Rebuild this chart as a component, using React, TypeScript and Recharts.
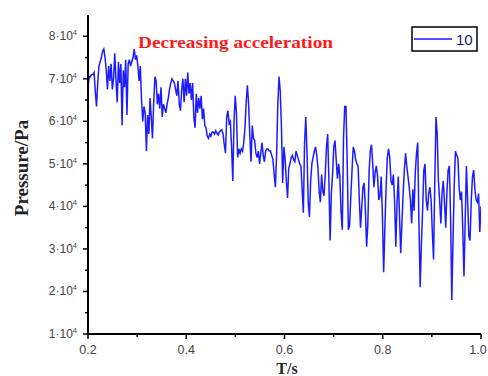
import { Customized, Line, LineChart, XAxis, YAxis } from 'recharts'

// pressure trace, Pa, sampled evenly from 0.2 s to 1.0 s
const pressure: number[] = [
  68000, 70500, 70500, 71000, 71000, 71500, 67000, 63500, 69000, 73000, 74000, 75000, 76500, 77000, 75000, 72000,
  67500, 73000, 69500, 73500, 67500, 70000, 76000, 69500, 64500, 74000, 69000, 73500, 59000, 72000, 68000, 74500,
  61500, 73500, 74500, 73000, 74000, 75000, 77000, 74500, 75500, 73000, 69500, 73000, 65000, 60000, 63500, 62000,
  53000, 61500, 57000,
  65500, 61000, 56000, 64500, 70500, 69500, 64000, 66500, 63000, 68000, 61000, 64000, 63000, 62000, 64000, 65500,
  67500, 69000, 70000, 69500, 69000, 67500, 66000, 69500, 64000, 62500, 67500, 70000, 64500, 70000, 66000, 71500,
  66500, 69000, 65000, 69000, 61000, 58500, 66500, 62000, 65500, 63000, 66000, 60500, 63000, 59000, 58500, 56500,
  56000, 57000, 56500, 57500,
  57500, 57000, 57800, 57200, 56800, 57500, 57800, 58000, 57000, 54500, 52500, 61000, 62500, 59500, 60000, 54000,
  46000, 60000, 66000, 62000, 51500, 53500, 52500, 53500, 53000, 55000, 58500, 64500, 68500, 64000, 56500, 50500,
  59000, 56000, 55500, 52500, 51500, 53000, 50000, 52500, 55000, 52000, 50500, 53000, 53500, 53500, 53000, 53000,
  52000, 51000, 47500, 44500, 52000, 64000, 70500,
  67000, 58500, 45500, 54000, 51000, 46000, 42000, 49000, 50000, 51500, 52000, 51000, 50500, 53000, 52000, 51000,
  50000, 49500, 44000, 38500, 55000, 61000, 52500, 41000, 37500, 46000, 50000, 51500, 53000, 54000, 52000, 49000,
  43500, 41000, 47500, 43500, 42500, 47500, 54000, 57000, 46000, 32000, 43000, 47500, 54000, 55500, 51000, 46500,
  50000, 47000, 38500, 34500, 56000, 63500,
  63500, 51000, 34500, 35500, 42200, 48500, 54000, 53000, 51000, 50000, 49500, 41500, 35000, 40000, 44500, 45500,
  39000, 30500, 36000, 48000, 53000, 54500, 50000, 44500, 48000, 49500, 47000, 41500, 42500, 47000, 37500, 24500,
  35000, 44500, 51500, 53500, 51500, 46000, 45000, 47500, 41000, 30500, 41000, 47000, 38000, 29000, 36000, 43000,
  48500, 52500, 49500, 47000, 44500, 41500, 36000, 44000,
  39000, 48000, 52500, 55000, 36000, 21000, 31000, 39000, 48500, 50000, 41500, 39000, 43000, 44500, 41500, 34000,
  27500, 45500, 61000, 57000, 46000, 41500, 36000, 43000, 46000, 41000, 35000, 43500, 48500, 49500, 37500, 18000,
  32000, 45000, 53000, 52000, 51500, 44500, 41500, 43500, 35000, 23500, 36500, 49500, 41500, 33000, 32000, 41500,
  47000, 48500, 44000, 41500, 41000, 43000, 34000, 40000,
]

const tStart = 0.2
const tEnd = 1.0
const xTicks = [0.2, 0.3, 0.4, 0.5, 0.6, 0.7, 0.8, 0.9, 1.0]
const yTicks = [10000, 15000, 20000, 25000, 30000, 35000, 40000, 45000, 50000, 55000, 60000, 65000, 70000, 75000, 80000]
const seriesName = '10'
const title = 'Decreasing acceleration'

const step = (tEnd - tStart) / (pressure.length - 1)
const data = pressure.map((p, i) => ({ t: tStart + i * step, p }))

const CHART_W = 488
const LINE = '#1c1cff'
const SERIF = '"Liberation Serif", "Times New Roman", serif'
const SANS = '"Liberation Sans", Arial, sans-serif'

const YTick = (props: any) => {
  const { x, y, payload } = props
  const v = payload.value as number
  const major = v % 10000 === 0
  return (
    <g>
      <line x1={x - (major ? 5 : 3)} x2={x} y1={y} y2={y} stroke="#000" strokeWidth={1.5} />
      {major && (
        <text x={x - 11} y={y + 4} textAnchor="end" fontFamily={SANS} fontSize={12} fill="#444">
          {`${v / 10000}·10`}
          <tspan fontSize={7.5} dy={-5}>4</tspan>
        </text>
      )}
    </g>
  )
}

const XTick = (props: any) => {
  const { x, y, payload } = props
  const v = payload.value as number
  const major = Math.round(v * 10) % 2 === 0
  // keep the last label inside the svg edge
  const tx = Math.min(x, CHART_W - 10)
  return (
    <g>
      <line x1={x} x2={x} y1={y} y2={y + (major ? 5 : 3)} stroke="#000" strokeWidth={1.5} />
      {major && (
        <text x={tx} y={y + 20} textAnchor="middle" fontFamily={SANS} fontSize={12.5} fill="#444">
          {v.toFixed(1)}
        </text>
      )}
    </g>
  )
}

const Decorations = () => (
  <g>
    <text x={138} y={48} fontFamily={SERIF} fontWeight="bold" fontSize={17} fill="#ff1a1a"
      textLength={195} lengthAdjust="spacingAndGlyphs">
      {title}
    </text>
    <rect x={412} y={27} width={65} height={24} fill="#fff" stroke="#000" strokeWidth={1.5} />
    <line x1={414} x2={452} y1={39} y2={39} stroke={LINE} strokeWidth={1.5} />
    <text x={456} y={45} fontFamily={SANS} fontSize={15} fill="#1a1a80">{seriesName}</text>
    <text x={28} y={168} transform="rotate(-90, 28, 168)" textAnchor="middle" fontFamily={SERIF}
      fontWeight="bold" fontSize={19} fill="#222">
      Pressure/Pa
    </text>
    <text x={287} y={374} textAnchor="middle" fontFamily={SERIF} fontWeight="bold" fontSize={16} fill="#222">
      T/s
    </text>
  </g>
)

export default function App() {
  return (
    <div style={{ position: 'absolute', left: 0, top: 0, background: '#fff' }}>
      <LineChart width={CHART_W} height={376} data={data} margin={{ top: 15, right: 7, bottom: 12, left: 0 }}>
        <XAxis type="number" dataKey="t" domain={[tStart, tEnd]} ticks={xTicks} interval={0}
          tick={XTick} tickLine={false} tickSize={0} tickMargin={0} height={30}
          axisLine={{ stroke: '#000', strokeWidth: 2 }} allowDataOverflow />
        <YAxis type="number" domain={[10000, 85000]} ticks={yTicks} interval={0}
          tick={YTick} tickLine={false} tickSize={0} tickMargin={0} width={88}
          axisLine={{ stroke: '#000', strokeWidth: 2 }} allowDataOverflow />
        <Line type="linear" dataKey="p" name={seriesName} stroke={LINE} strokeWidth={1.5}
          dot={false} activeDot={false} isAnimationActive={false} />
        <Customized component={Decorations} />
      </LineChart>
    </div>
  )
}
